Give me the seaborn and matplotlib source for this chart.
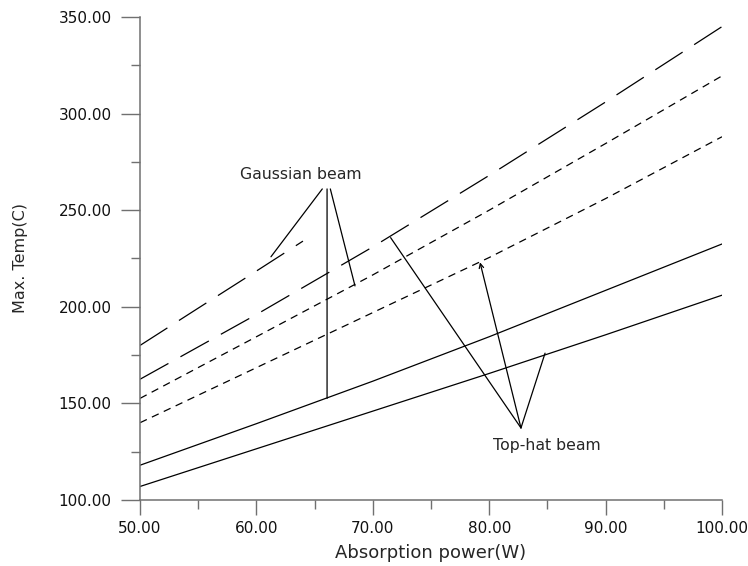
import numpy as np
import pandas as pd
import matplotlib
matplotlib.use("Agg")
import matplotlib.pyplot as plt
import seaborn as sns

# values
power = [50, 60, 70, 80, 90, 100]
power_short = [50, 55, 60, 64]
gauss_a = [180, 199.3, 218.5, 234]
gauss_b = [162.5, 196, 231, 268, 306, 345]
gauss_c = [152.6, 184.5, 216.5, 250, 284.5, 319.5]
gauss_d = [140, 168.5, 197, 225.5, 256, 288]
tophat_e = [118, 139.5, 161.5, 184.5, 208.5, 232.5]
tophat_f = [107, 126.5, 146, 165.5, 185.5, 206]

x_ticks = [50, 60, 70, 80, 90, 100]
y_ticks = [100, 150, 200, 250, 300, 350]

rows = []
for name, xs, ys in [("A", power_short, gauss_a), ("B", power, gauss_b),
                     ("C", power, gauss_c), ("D", power, gauss_d),
                     ("E", power, tophat_e), ("F", power, tophat_f)]:
    for xv, yv in zip(xs, ys):
        rows.append({"power": xv, "temp": yv, "curve": name})
df = pd.DataFrame(rows)

sns.set_theme(style="ticks")
plt.rcParams['font.family'] = ['DejaVu Sans']

fig = plt.figure(figsize=(7.48, 5.66), dpi=100)
ax = fig.add_axes([0.1872, 0.1166, 0.778, 0.8534])

dash_map = {"A": (26, 11), "B": (26, 11), "C": (6, 4.5), "D": (6, 4.5),
            "E": "", "F": ""}
sns.lineplot(data=df, x="power", y="temp", hue="curve", style="curve",
             palette=["black"] * 6, dashes=dash_map, linewidth=0.9,
             legend=False, ax=ax)

ax.set_xlim(50, 100)
ax.set_ylim(100, 350)
ax.set_xticks(x_ticks)
ax.set_yticks(y_ticks)
ax.set_xticklabels([f"{v:.2f}" for v in x_ticks])
ax.set_yticklabels([f"{v:.2f}" for v in y_ticks])
ax.set_xticks([55, 65, 75, 85, 95], minor=True)
ax.set_yticks([125, 175, 225, 275, 325], minor=True)
ax.tick_params(axis="both", which="both", width=1, color="#707070",
               labelsize=11, labelcolor="#111111")
ax.tick_params(axis="y", which="major", length=13.5, pad=7)
ax.tick_params(axis="y", which="minor", length=6.5)
ax.tick_params(axis="x", which="major", length=11, pad=4)
ax.tick_params(axis="x", which="minor", length=6.5)

for side in ["top", "right"]:
    ax.spines[side].set_visible(False)
for side in ["left", "bottom"]:
    ax.spines[side].set_color("#707070")
    ax.spines[side].set_linewidth(1.1)

ax.set_xlabel("Absorption power(W)", fontsize=13, labelpad=6)
ax.set_ylabel("Max. Temp(C)", fontsize=11.5, labelpad=22)

# annotation leaders
ln = dict(arrowstyle="-", color="black", lw=0.9, shrinkA=0, shrinkB=0)
ax.text(63.8, 268.5, "Gaussian beam", fontsize=11.3, ha="center", va="center")
for start, end in [((65.66, 261), (61.25, 225.9)),
                   ((66.07, 261), (66.07, 152.6)),
                   ((66.35, 261), (68.47, 210.8))]:
    ax.annotate("", xy=end, xytext=start, arrowprops=ln)

ax.text(84.92, 128, "Top-hat beam", fontsize=11.3, ha="center", va="center")
hub = (82.73, 137.3)
ax.annotate("", xy=(71.53, 235.8), xytext=hub, arrowprops=ln)
ax.annotate("", xy=(84.8, 176), xytext=hub, arrowprops=ln)
ax.annotate("", xy=(79.21, 223.0), xytext=hub,
            arrowprops=dict(arrowstyle="->", color="black", lw=0.9,
                            shrinkA=0, shrinkB=0, mutation_scale=8))

fig.savefig("out.png", dpi=100)
